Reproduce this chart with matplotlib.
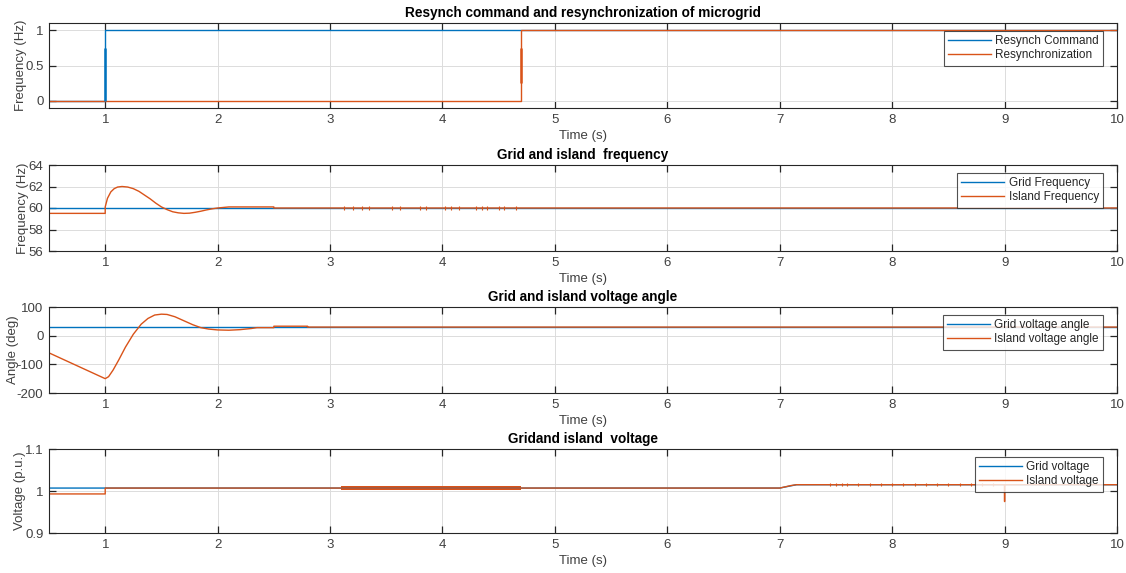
import numpy as np
import matplotlib
matplotlib.use("Agg")
import matplotlib.pyplot as plt

plt.rcParams['font.family'] = ['Liberation Sans', 'DejaVu Sans']
plt.rcParams['axes.unicode_minus'] = False

BLUE = "#0072BD"
ORANGE = "#D95319"

## Resynch command / resynchronization
cmd_t = [0.5, 1.0, 1.0, 10.0]
cmd_v = [0.0, 0.0, 1.0, 1.0]
sync_t = [0.5, 4.7, 4.7, 10.0]
sync_v = [0.0, 0.0, 1.0, 1.0]

## Grid / island frequency
gfreq_t = [0.5, 10.0]
gfreq_v = [60.0, 60.0]
ifreq_t = [0.5, 1.0, 1.0, 1.02, 1.05, 1.08, 1.11, 1.15, 1.2, 1.25, 1.3, 1.35, 1.4, 1.45,
           1.5, 1.55, 1.6, 1.65, 1.7, 1.75, 1.8, 1.85, 1.9, 1.95, 2.0, 2.05, 2.1, 2.5, 2.5, 10.0]
ifreq_v = [59.5, 59.5, 60.1, 60.9, 61.5, 61.8, 61.95, 62.0, 61.95, 61.8, 61.55, 61.2, 60.85, 60.45,
           60.1, 59.85, 59.65, 59.55, 59.5, 59.52, 59.6, 59.7, 59.82, 59.92, 60.0, 60.05, 60.1, 60.1, 60.0, 60.0]
ifreq_spikes = [3.12, 3.2, 3.28, 3.35, 3.55, 3.62, 3.8, 3.85, 4.02, 4.08, 4.15, 4.3, 4.35,
                4.4, 4.5, 4.55, 4.65]

## Grid / island voltage angle
gang_t = [0.5, 10.0]
gang_v = [30.0, 30.0]
iang_t = [0.5, 0.6, 0.7, 0.8, 0.9, 0.95, 1.0, 1.03, 1.07, 1.12, 1.18, 1.25, 1.32, 1.38, 1.44,
          1.5, 1.55, 1.62, 1.7, 1.78, 1.85, 1.92, 2.0, 2.1, 2.2, 2.3, 2.35, 2.5, 2.5, 2.8, 2.8, 10.0]
iang_v = [-60.0, -78.0, -96.0, -114.0, -132.0, -141.0, -150.0, -143.0, -120.0, -85.0, -40.0, 5.0,
          40.0, 60.0, 72.0, 75.0, 74.0, 66.0, 52.0, 38.0, 28.0, 23.0, 20.0, 19.0, 21.0, 25.0, 28.0,
          28.0, 33.0, 33.0, 30.0, 30.0]

## Grid / island voltage
gvolt_t = [0.5, 7.0, 7.15, 10.0]
gvolt_v = [1.007, 1.007, 1.015, 1.015]
ivolt_t = [0.5, 1.0, 1.0, 7.0, 7.05, 7.1, 7.15, 9.0, 9.0, 9.0, 10.0]
ivolt_v = [0.993, 0.993, 1.007, 1.007, 1.01, 1.013, 1.015, 1.015, 0.975, 1.015, 1.015]
ivolt_band = [3.1, 4.7]
ivolt_spikes = [7.45, 7.5, 7.55, 7.6, 7.7, 7.8, 7.9, 8.0, 8.1, 8.2, 8.3, 8.4, 8.5, 8.6, 8.7, 8.8, 8.9]

panels = [
    ("Resynch command and resynchronization of microgrid", "Frequency (Hz)",
     (-0.1, 1.1), [0, 0.5, 1], ["0", "0.5", "1"], ("Resynch Command", "Resynchronization")),
    ("Grid and island  frequency", "Frequency (Hz)",
     (56, 64), [56, 58, 60, 62, 64], None, ("Grid Frequency", "Island Frequency")),
    ("Grid and island voltage angle", "Angle (deg)",
     (-200, 100), [-200, -100, 0, 100], None, ("Grid voltage angle", "Island voltage angle")),
    ("Gridand island  voltage", "Voltage (p.u.)",
     (0.9, 1.1), [0.9, 1.0, 1.1], ["0.9", "1", "1.1"], ("Grid voltage", "Island voltage")),
]

series = [
    ((cmd_t, cmd_v), (sync_t, sync_v)),
    ((gfreq_t, gfreq_v), (ifreq_t, ifreq_v)),
    ((gang_t, gang_v), (iang_t, iang_v)),
    ((gvolt_t, gvolt_v), (ivolt_t, ivolt_v)),
]

fig = plt.figure(figsize=(11.26, 5.73), dpi=100)
W, H = 1126.0, 573.0
boxes = [(23, 108), (165, 251), (307, 393), (449, 533)]
ylab_x = [27, 29, 19, 26]
left, right = 49, 1117

for i, (top, bot) in enumerate(boxes):
    ax = fig.add_axes([left / W, 1 - bot / H, (right - left) / W, (bot - top) / H])
    title, ylab, ylim, yt, ytl, labels = panels[i]
    (t1, v1), (t2, v2) = series[i]
    ax.plot(t1, v1, color=BLUE, lw=1.0, label=labels[0])
    ax.plot(t2, v2, color=ORANGE, lw=1.0, label=labels[1])

    if i == 0:
        ax.vlines(1.0, 0.0, 0.75, color=BLUE, lw=1.8)
        ax.vlines(4.7, 0.25, 0.75, color=ORANGE, lw=1.8)
    if i == 1:
        ax.vlines(ifreq_spikes, 59.85, 60.15, color=ORANGE, lw=0.8)
    if i == 3:
        ax.fill_between(ivolt_band, 1.0015, 1.0125, color=ORANGE, lw=0)
        ax.vlines(ivolt_spikes, 1.012, 1.018, color=ORANGE, lw=0.8)

    ax.set_xlim(0.5, 10)
    ax.set_ylim(*ylim)
    ax.set_xticks(range(1, 11))
    ax.set_yticks(yt)
    if ytl is not None:
        ax.set_yticklabels(ytl)
    ax.grid(True, color="#dcdcdc", lw=0.7)
    ax.set_axisbelow(True)
    ax.tick_params(direction="in", top=True, right=True, length=5, width=0.9,
                   labelsize=9.5, colors="#262626", labelcolor="#404040", pad=4)
    for s in ax.spines.values():
        s.set_color("#262626")
        s.set_linewidth(0.8)
    ax.set_title(title, fontsize=9.8, fontweight="bold", pad=4)
    ax.set_xlabel("Time (s)", fontsize=9.5, color="#404040", labelpad=3)
    ax.set_ylabel(ylab, fontsize=9.5, color="#404040")
    ax.yaxis.set_label_coords((ylab_x[i] - left) / (right - left), 0.5)
    anchor = (1 - 14.0 / (right - left), 1 - 8.0 / (bot - top))
    leg = ax.legend(loc="upper right", bbox_to_anchor=anchor, borderaxespad=0,
                    fontsize=8.5, frameon=True, fancybox=False,
                    handlelength=3.6, handletextpad=0.4,
                    borderpad=0.35, labelspacing=0.2)
    leg.get_frame().set_edgecolor("#262626")
    leg.get_frame().set_linewidth(0.8)
    for txt in leg.get_texts():
        txt.set_color("#262626")

fig.savefig("out.png", dpi=100)
